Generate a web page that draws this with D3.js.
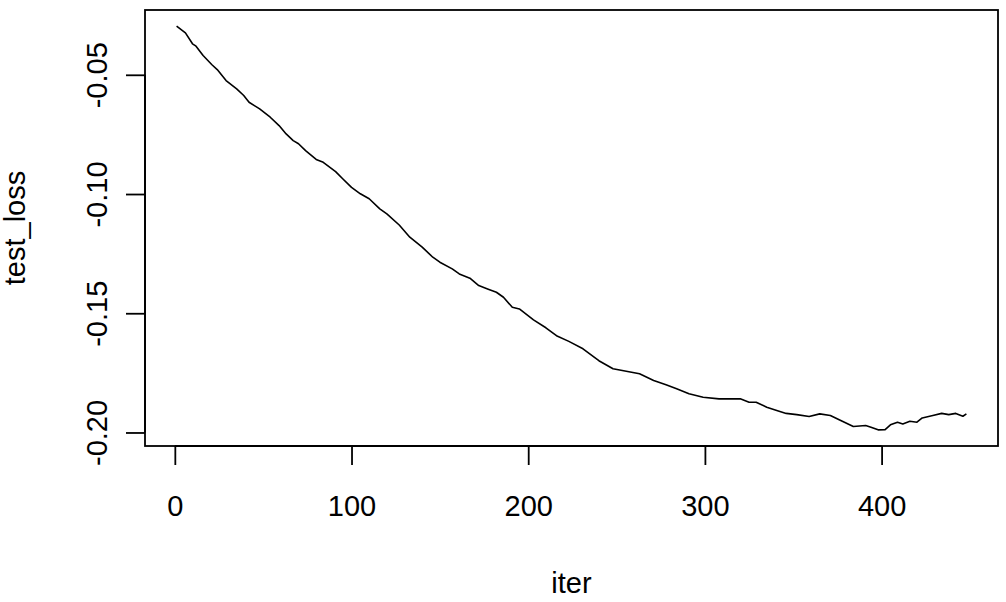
<!DOCTYPE html>
<html>
<head>
<meta charset="utf-8">
<script src="https://cdn.jsdelivr.net/npm/d3@7"></script>
<style>
  html, body { margin: 0; padding: 0; background: #fff; }
  svg { display: block; }
  text { font-family: "Liberation Sans", Arial, Helvetica, sans-serif; fill: #000; }
</style>
</head>
<body>
<script>
const iters = [1, 6, 10, 12, 16, 21, 24, 29, 35, 39, 42, 48, 54, 59, 63, 67, 70, 74, 80, 84,
  91, 95, 100, 105, 110, 116, 120, 127, 133, 140, 146, 150, 157, 161, 167, 172, 177, 182, 186, 191,
  195, 203, 210, 216, 223, 231, 240, 248, 257, 263, 271, 278, 284, 291, 299, 308, 320, 325, 329, 335,
  342, 346, 352, 359, 365, 371, 376, 384, 391, 394, 398, 402, 405, 409, 412, 416, 420, 423, 429, 434,
  438, 442, 446, 448];
const testLoss = [-0.0296, -0.0324, -0.0370, -0.0380, -0.0419, -0.0458, -0.0478, -0.0524, -0.0559, -0.0587,
  -0.0615, -0.0643, -0.0678, -0.0713, -0.0748, -0.0776, -0.0789, -0.0818, -0.0855, -0.0867,
  -0.0906, -0.0936, -0.0972, -0.0999, -0.1020, -0.1062, -0.1083, -0.1130, -0.1181, -0.1223,
  -0.1265, -0.1286, -0.1314, -0.1335, -0.1353, -0.1384, -0.1398, -0.1412, -0.1433, -0.1475,
  -0.1482, -0.1528, -0.1561, -0.1594, -0.1618, -0.1649, -0.1699, -0.1733, -0.1745, -0.1754,
  -0.1782, -0.1800, -0.1817, -0.1838, -0.1852, -0.1859, -0.1859, -0.1873, -0.1873, -0.1894,
  -0.1911, -0.1920, -0.1925, -0.1933, -0.1922, -0.1929, -0.1947, -0.1975, -0.1971, -0.1978,
  -0.1989, -0.1988, -0.1968, -0.1957, -0.1964, -0.1953, -0.1957, -0.1939, -0.1929, -0.1920,
  -0.1925, -0.1920, -0.1932, -0.1922];
const xTicks = [0, 100, 200, 300, 400];
const yTicks = [-0.20, -0.15, -0.10, -0.05];
const xLabel = "iter";
const yLabel = "test_loss";

const W = 1006, H = 602;
const box = { left: 145, right: 998, top: 10, bottom: 446 };
const fontSize = 29;
const tickLen = 19;

const data = iters.map((d, i) => ({ x: d, y: testLoss[i] }));

function expand(ext) {
  const p = (ext[1] - ext[0]) * 0.04;
  return [ext[0] - p, ext[1] + p];
}

const x = d3.scaleLinear().domain(expand(d3.extent(iters))).range([box.left, box.right]);
const y = d3.scaleLinear().domain(expand(d3.extent(testLoss))).range([box.bottom, box.top]);

const svg = d3.select("body").append("svg").attr("width", W).attr("height", H);

// Plot box
svg.append("rect")
  .attr("x", box.left).attr("y", box.top)
  .attr("width", box.right - box.left).attr("height", box.bottom - box.top)
  .attr("fill", "none").attr("stroke", "#000").attr("stroke-width", 1.8);

// X axis
const xAxis = d3.axisBottom(x).tickValues(xTicks).tickSize(tickLen).tickPadding(0).tickFormat(d => String(d));
const gx = svg.append("g").attr("transform", `translate(0,${box.bottom})`).call(xAxis);
gx.select(".domain").attr("d", `M${x(xTicks[0])},0H${x(xTicks[xTicks.length - 1])}`)
  .attr("stroke", "#000").attr("stroke-width", 1.8);
gx.selectAll(".tick line").attr("stroke", "#000").attr("stroke-width", 1.8);
gx.selectAll(".tick text")
  .attr("font-size", fontSize).attr("font-family", "Liberation Sans, Arial, sans-serif")
  .attr("fill", "#000").attr("y", 70).attr("dy", null)
  .attr("dominant-baseline", "auto");

// Y axis (plain hyphen-minus, as in the reference)
const yAxis = d3.axisLeft(y).tickValues(yTicks).tickSize(tickLen).tickPadding(0).tickFormat(d => d.toFixed(2));
const gy = svg.append("g").attr("transform", `translate(${box.left},0)`).call(yAxis);
gy.select(".domain").attr("d", `M0,${y(yTicks[0])}V${y(yTicks[yTicks.length - 1])}`)
  .attr("stroke", "#000").attr("stroke-width", 1.8);
gy.selectAll(".tick line").attr("stroke", "#000").attr("stroke-width", 1.8);
gy.selectAll(".tick text")
  .attr("font-size", fontSize).attr("font-family", "Liberation Sans, Arial, sans-serif")
  .attr("fill", "#000")
  .attr("x", null).attr("dy", null)
  .attr("text-anchor", "middle")
  .attr("transform", "translate(-38,0) rotate(-90)")
  .attr("y", 0);

// Axis titles
svg.append("text")
  .attr("x", (box.left + box.right) / 2).attr("y", 593)
  .attr("text-anchor", "middle").attr("font-size", fontSize)
  .text(xLabel);
svg.append("text")
  .attr("transform", `translate(25,${(box.top + box.bottom) / 2}) rotate(-90)`)
  .attr("text-anchor", "middle").attr("font-size", fontSize)
  .text(yLabel);

// Line
const line = d3.line().x(d => x(d.x)).y(d => y(d.y));
svg.append("path").datum(data)
  .attr("d", line)
  .attr("fill", "none").attr("stroke", "#000").attr("stroke-width", 1.6)
  .attr("stroke-linejoin", "round");
</script>
</body>
</html>
